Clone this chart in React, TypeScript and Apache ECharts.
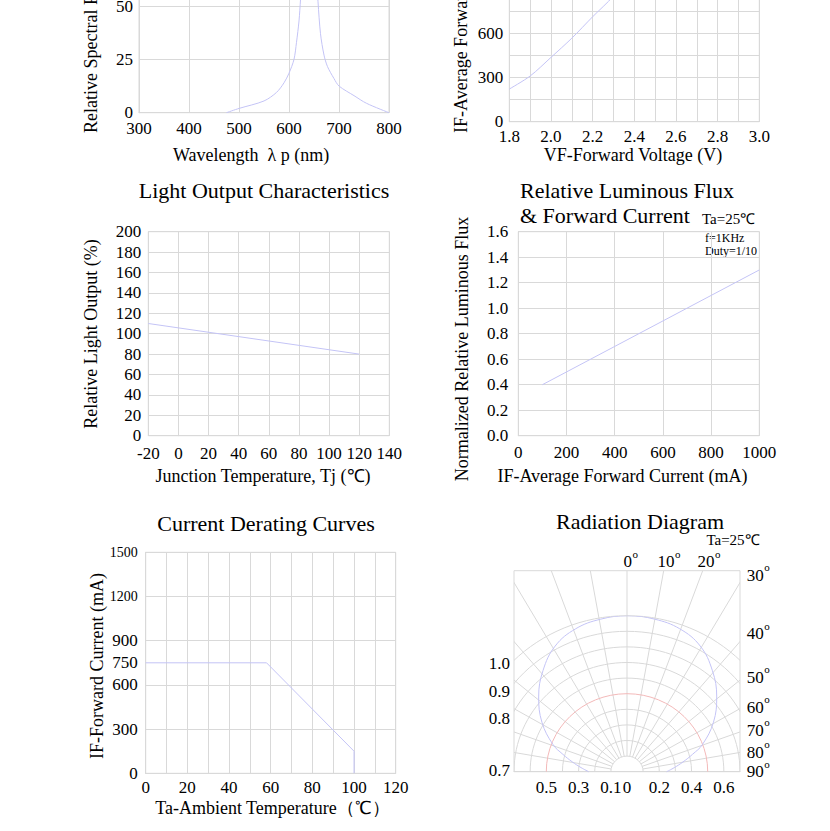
import React, { useEffect, useRef } from 'react';
import * as echarts from 'echarts';

// ---------------- data ----------------
// Panel 1: relative spectral power vs wavelength
const spectralWavelength = [475, 500, 550, 575, 590, 600, 610, 615, 620, 623, 630, 640, 650, 658, 663, 670, 677, 690, 700, 730, 755, 800];
const spectralValue = [0, 2, 5.5, 9.5, 14, 18.5, 25, 33, 43, 53, 80, 100, 80, 52, 37, 27, 21.6, 16, 12.5, 8, 4.4, 0];

// Panel 2: forward current vs forward voltage
const vfVoltage = [1.8, 1.9, 2.0, 2.1, 2.2, 2.3, 2.4];
const vfCurrent = [221, 309, 435, 565, 710, 850, 1030];

// Panel 3: light output vs junction temperature
const junctionTemp = [-20, 120];
const lightOutput = [110, 80];

// Panel 4: relative luminous flux vs forward current
const fluxCurrent = [100, 1000];
const fluxValue = [0.4, 1.3];

// Panel 5: current derating
const deratingTemp = [0, 58, 100, 100];
const deratingCurrent = [750, 750, 150, 0];

// Panel 6: radiation diagram (angle in degrees, relative intensity)
const radAngles = [-90, -85, -80, -75, -70, -60, -50, -40, -30, -20, -10, 0, 10, 20, 30, 40, 50, 60, 70, 75, 80, 85, 90];
const radIntensity = [0.25, 0.3, 0.36, 0.43, 0.51, 0.635, 0.745, 0.845, 0.93, 0.975, 0.993, 1.0, 0.993, 0.975, 0.93, 0.845, 0.745, 0.635, 0.51, 0.43, 0.36, 0.3, 0.25];
const radRingValues = [0.1, 0.2, 0.3, 0.4, 0.6, 0.7, 0.8, 0.9, 1.0, 0.5];
const radSpokeAngles = [-90, -80, -70, -60, -50, -40, -30, -20, -10, 0, 10, 20, 30, 40, 50, 60, 70, 80, 90];
const radTopLabels = ['0', '10', '20'];
const radRightLabels = ['30', '40', '50', '60', '70', '80', '90'];
const radLeftLabels = ['1.0', '0.9', '0.8', '0.7'];

// ---------------- layout / style ----------------
const FONT = '"Liberation Serif", "Times New Roman", serif';
const GRID_COLOR = '#d9d9d9';
const LINE_COLOR = '#c4c4f6';
const RED_RING = '#f3b9b9';

const radTopX = [627.7, 666, 706];
const radTopY = 561.7;
const radRightX = 746.7;
const radRightY = [575, 633.5, 677, 707, 730, 752.3, 771.7];
const radLeftX = 510;
const radLeftY = [663.3, 691, 718.7, 770.3];

const grids = [
  { left: 139, top: -100.7, width: 250, height: 213.4 },
  { left: 509.3, top: -100, width: 250, height: 221.7 },
  { left: 148.3, top: 231.7, width: 241, height: 204 },
  { left: 518.3, top: 231.7, width: 241, height: 204 },
  { left: 145.7, top: 552.3, width: 250, height: 221 },
  { left: 514, top: 570.7, width: 226, height: 201 },
];

const plain = (v: number) => String(Math.round(v * 1000) / 1000);

const labelBase = (size: number, margin: number, formatter?: any) => ({
  fontFamily: FONT,
  fontSize: size,
  color: '#000',
  margin,
  formatter: formatter || plain,
});

function valueAxis(gridIndex: number, min: number, max: number, interval: number, label: any, extra: any = {}) {
  return {
    type: 'value',
    gridIndex,
    min,
    max,
    interval,
    axisLine: { show: true, lineStyle: { color: GRID_COLOR, width: 1 } },
    axisTick: { show: false },
    splitLine: { show: true, lineStyle: { color: GRID_COLOR, width: 1 } },
    axisLabel: label,
    ...extra,
  };
}

function txt(text: string, x: number, y: number, size: number, align = 'center', extra: any = {}) {
  return {
    type: 'text',
    x,
    y,
    silent: true,
    ...extra,
    style: {
      text,
      fontFamily: FONT,
      fontSize: size,
      fill: '#000',
      align,
      verticalAlign: 'middle',
      textAlign: align,
      textVerticalAlign: 'middle',
    },
  };
}

const toPairs = (xs: number[], ys: number[]) => xs.map((x, i) => [x, ys[i]]);

function buildOption() {
  const xAxis = [
    valueAxis(0, 300, 800, 100, labelBase(17, 7)),
    valueAxis(1, 1.8, 3.0, 0.1, labelBase(17, 6, (v: number) => (Math.round(v * 10) % 2 === 0 ? v.toFixed(1) : ''))),
    valueAxis(2, -20, 140, 20, labelBase(17, 9)),
    valueAxis(3, 0, 1000, 200, labelBase(17, 8)),
    valueAxis(4, 0, 120, 10, labelBase(17, 6, (v: number) => (Math.round(v) % 20 === 0 ? String(Math.round(v)) : ''))),
    valueAxis(5, -0.7, 0.7, 0.1, labelBase(17, 7, (v: number) => {
      const n = Math.round(v * 10);
      if (n === 0) return '0';
      if (n < 0 && n >= -5 && Math.abs(n) % 2 === 1) return (-n / 10).toFixed(1);
      if (n > 0 && n % 2 === 0) return (n / 10).toFixed(1);
      return '';
    }), { splitLine: { show: false } }),
  ];

  const yAxis = [
    valueAxis(0, 0, 100, 25, labelBase(17, 6)),
    valueAxis(1, 0, 1500, 150, labelBase(17, 6, (v: number) => (Math.round(v) % 300 === 0 ? String(Math.round(v)) : ''))),
    valueAxis(2, 0, 200, 20, labelBase(17, 7)),
    valueAxis(3, 0, 1.6, 0.2, labelBase(17, 10, (v: number) => v.toFixed(1))),
    valueAxis(4, 0, 1500, 300, {
      fontFamily: FONT,
      color: '#000',
      margin: 8,
      formatter: (v: number) => (v >= 1200 ? '{s|' + Math.round(v) + '}' : '{b|' + Math.round(v) + '}'),
      rich: {
        s: { fontFamily: FONT, fontSize: 14, color: '#000' },
        b: { fontFamily: FONT, fontSize: 17, color: '#000' },
      },
    }, { position: 'left' }),
    {
      type: 'value',
      gridIndex: 4,
      position: 'left',
      min: 0,
      max: 1500,
      interval: 750,
      axisLine: { show: false },
      axisTick: { show: false },
      splitLine: { show: false },
      axisLabel: labelBase(17, 8, (v: number) => (Math.round(v) === 750 ? '750' : '')),
    },
    {
      type: 'value',
      gridIndex: 5,
      min: 0,
      max: 201 / 156,
      show: false,
      splitLine: { show: false },
    },
  ];

  const lineSeries = (xi: number, yi: number, data: number[][], smooth: any = false) => ({
    type: 'line',
    xAxisIndex: xi,
    yAxisIndex: yi,
    data,
    smooth,
    symbol: 'none',
    silent: true,
    lineStyle: { color: LINE_COLOR, width: 1 },
    z: 5,
  });

  const series: any[] = [
    lineSeries(0, 0, toPairs(spectralWavelength, spectralValue), 0.3),
    lineSeries(1, 1, toPairs(vfVoltage, vfCurrent), 0.3),
    lineSeries(2, 2, toPairs(junctionTemp, lightOutput)),
    lineSeries(3, 3, toPairs(fluxCurrent, fluxValue)),
    lineSeries(4, 4, toPairs(deratingTemp, deratingCurrent)),
    {
      type: 'custom',
      xAxisIndex: 5,
      yAxisIndex: 6,
      clip: true,
      silent: true,
      z: 2,
      data: [[0, 0]],
      renderItem: (params: any, api: any) => {
        const c = api.coord([0, 0]);
        const children: any[] = [];
        radSpokeAngles.forEach((a) => {
          const t = (a * Math.PI) / 180;
          const p1 = api.coord([0.1 * Math.sin(t), 0.1 * Math.cos(t)]);
          const p2 = api.coord([3 * Math.sin(t), 3 * Math.cos(t)]);
          children.push({
            type: 'line',
            shape: { x1: p1[0], y1: p1[1], x2: p2[0], y2: p2[1] },
            style: { stroke: GRID_COLOR, lineWidth: 1, fill: 'none' },
          });
        });
        radRingValues.forEach((r) => {
          const rx = api.size([r, 0])[0];
          const ry = api.size([0, r])[1];
          children.push({
            type: 'ellipse',
            shape: { cx: c[0], cy: c[1], rx, ry },
            style: { stroke: r === 0.5 ? RED_RING : GRID_COLOR, lineWidth: 1, fill: 'none' },
          });
        });
        return { type: 'group', children };
      },
    },
    {
      type: 'line',
      coordinateSystem: 'polar',
      polarIndex: 0,
      data: radAngles.map((a, i) => [radIntensity[i], a]),
      smooth: 0.4,
      symbol: 'none',
      silent: true,
      lineStyle: { color: LINE_COLOR, width: 1 },
      z: 6,
    },
  ];

  const elements: any[] = [
    // y axis names
    txt('Relative Spectral Power Distribution', 90.7, 133, 18, 'left', { rotation: Math.PI / 2 }),
    txt('IF-Average Forward Current (mA)', 461, 133, 18, 'left', { rotation: Math.PI / 2 }),
    txt('Relative Light Output (%)', 90.7, 334, 18, 'center', { rotation: Math.PI / 2 }),
    txt('Normalized Relative Luminous Flux', 461.5, 349, 18, 'center', { rotation: Math.PI / 2 }),
    txt('IF-Forward Current (mA)', 97, 666, 18, 'center', { rotation: Math.PI / 2 }),
    // x axis names
    txt('Wavelength  \u03bb p (nm)', 251, 155, 18),
    txt('VF-Forward Voltage (V)', 633, 155, 18),
    txt('Junction Temperature, Tj (\u2103)', 263, 476, 18),
    txt('IF-Average Forward Current (mA)', 622.5, 475.5, 18),
    txt('Ta-Ambient Temperature\uff08\u2103\uff09', 272.5, 808.3, 18),
    // titles
    txt('Light Output Characteristics', 264, 190, 22),
    txt('Relative Luminous Flux', 520, 190, 22, 'left'),
    txt('& Forward Current', 520, 215, 22, 'left'),
    txt('Ta=25\u2103', 702, 218.5, 15, 'left'),
    txt('f=1KHz', 705, 238, 12, 'left'),
    txt('Duty=1/10', 705, 250.5, 12, 'left'),
    txt('Current Derating Curves', 266, 523, 22),
    txt('Radiation Diagram', 640, 521.7, 22),
    txt('Ta=25\u2103', 733, 540, 15),
  ];
  radTopLabels.forEach((s, i) => {
    const w = s.length * 8.5;
    elements.push(txt(s, radTopX[i], radTopY, 17));
    elements.push(txt('o', radTopX[i] + w / 2 + 0.5, radTopY - 8, 11, 'left'));
  });
  radRightLabels.forEach((s, i) => {
    const w = s.length * 8.5;
    elements.push(txt(s, radRightX, radRightY[i], 17, 'left'));
    elements.push(txt('o', radRightX + w + 0.5, radRightY[i] - 8, 11, 'left'));
  });
  radLeftLabels.forEach((s, i) => {
    elements.push(txt(s, radLeftX, radLeftY[i], 17, 'right'));
  });

  return {
    animation: false,
    backgroundColor: '#ffffff',
    grid: grids.map((g) => ({
      ...g,
      show: true,
      borderColor: GRID_COLOR,
      borderWidth: 1,
      backgroundColor: 'transparent',
      containLabel: false,
      outerBoundsMode: 'none',
    })),
    xAxis,
    yAxis,
    polar: { center: [627.7, 771.7], radius: 156 },
    angleAxis: {
      type: 'value',
      polarIndex: 0,
      min: -180,
      max: 180,
      startAngle: 270,
      clockwise: true,
      show: false,
      axisLine: { show: false },
      axisTick: { show: false },
      axisLabel: { show: false },
      splitLine: { show: false },
    },
    radiusAxis: {
      type: 'value',
      polarIndex: 0,
      min: 0,
      max: 1,
      show: false,
      axisLine: { show: false },
      axisTick: { show: false },
      axisLabel: { show: false },
      splitLine: { show: false },
    },
    series,
    graphic: { elements },
  };
}

export default function App() {
  const ref = useRef<HTMLDivElement>(null);
  useEffect(() => {
    if (!ref.current) return;
    const chart = echarts.init(ref.current, undefined, { renderer: 'svg' });
    chart.setOption(buildOption() as any);
    return () => chart.dispose();
  }, []);
  return (
    <div
      ref={ref}
      style={{ position: 'fixed', left: 0, top: 0, width: 830, height: 831, background: '#fff' }}
    />
  );
}
